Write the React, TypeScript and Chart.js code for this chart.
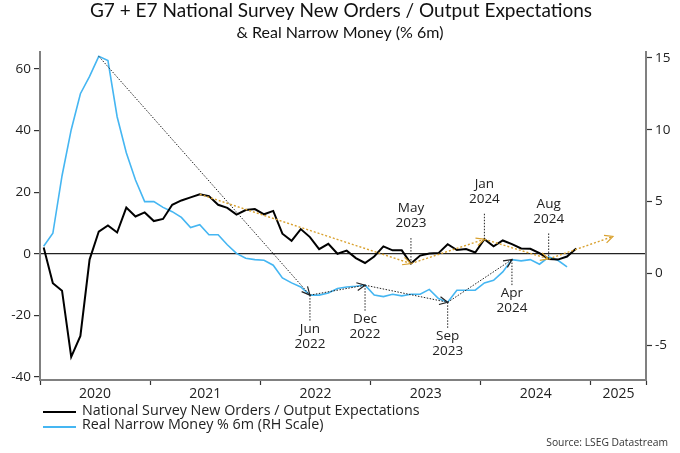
import React, { useEffect, useRef } from 'react';
import { Chart, registerables } from 'chart.js';
Chart.register(...registerables);

// Months counted from Jan 2020 (index 0)
const MONTH_OFFSET = 0.4;
const yearLabels = ['2020', '2021', '2022', '2023', '2024', '2025'];
const yearBoundaries = [0, 12, 24, 36, 48, 60, 66];
const yearLabelPositions = [6, 18, 30, 42, 54, 63];
const leftTicks = [-40, -20, 0, 20, 40, 60];
const rightTicks = [-5, 0, 5, 10, 15];

const surveyValues = [
  2.0, -9.6, -12, -33.5, -26.7, -1.9, 7.2, 9.2, 6.9, 15, 12.1, 13.4,
  10.6, 11.3, 15.9, 17.3, 18.3, 19.3, 18.7, 15.9, 14.9, 12.7, 14.2, 14.5,
  12.8, 13.9, 6.5, 4.2, 8.0, 5.4, 1.5, 3.2, 0, 1.0, -1.4, -3.0,
  -0.9, 2.4, 1.1, 1.1, -3.2, -0.6, 0.1, 0.2, 3.1, 1.2, 1.5, 0.4,
  4.7, 2.4, 4.3, 3.1, 1.7, 1.6, 0.2, -1.7, -1.9, -0.9, 1.7,
];
const moneyValues = [
  1.9, 2.8, 6.8, 10.0, 12.5, 13.7, 15.1, 14.8, 10.9, 8.4, 6.5, 5.0,
  5.0, 4.6, 4.3, 3.9, 3.2, 3.4, 2.7, 2.7, 2.0, 1.4, 1.06, 0.97,
  0.92, 0.58, -0.3, -0.65, -0.93, -1.5, -1.5, -1.35, -1.04, -0.93, -0.88, -0.81,
  -1.5, -1.6, -1.44, -1.55, -1.44, -1.44, -1.1, -1.74, -2.0, -1.16, -1.16, -1.16,
  -0.65, -0.47, 0.11, 0.97, 0.88, 0.97, 0.65, 1.15, 0.92, 0.46,
];

const moneyArrows = [[6, 29], [29, 35], [35, 44], [44, 51]];
const surveyArrows = [[17, 40], [40, 48], [48, 55]];
const surveyProjectionMonth = 62;
const surveyProjectionValue = 5.6;
const surveyMarks = [
  { m: 40, month: 'May', year: '2023' },
  { m: 48, month: 'Jan', year: '2024' },
  { m: 55, month: 'Aug', year: '2024' },
];
const moneyMarks = [
  { m: 29, month: 'Jun', year: '2022' },
  { m: 35, month: 'Dec', year: '2022' },
  { m: 44, month: 'Sep', year: '2023' },
  { m: 51, month: 'Apr', year: '2024' },
];

const TITLE = 'G7 + E7 National Survey New Orders / Output Expectations';
const SUBTITLE = '& Real Narrow Money (% 6m)';
const LEGEND1 = 'National Survey New Orders / Output Expectations';
const LEGEND2 = 'Real Narrow Money % 6m (RH Scale)';
const SOURCE = 'Source: LSEG Datastream';

const FONT = "'Open Sans', sans-serif";
const TITLE_FONT = "Lato, sans-serif";
const BLUE = '#45b6f2';
const ORANGE = '#d9a12e';
const AXIS = '#808080';

function drawArrow(ctx: CanvasRenderingContext2D, x1: number, y1: number, x2: number, y2: number, color: string, width: number, dash: number[]) {
  ctx.save();
  ctx.strokeStyle = color;
  ctx.lineWidth = width;
  ctx.setLineDash(dash);
  ctx.beginPath();
  ctx.moveTo(x1, y1);
  ctx.lineTo(x2, y2);
  ctx.stroke();
  ctx.setLineDash([]);
  const a = Math.atan2(y2 - y1, x2 - x1);
  const len = 9;
  const sp = 0.45;
  ctx.lineWidth = 1.2;
  ctx.beginPath();
  ctx.moveTo(x2 - len * Math.cos(a - sp), y2 - len * Math.sin(a - sp));
  ctx.lineTo(x2, y2);
  ctx.lineTo(x2 - len * Math.cos(a + sp), y2 - len * Math.sin(a + sp));
  ctx.stroke();
  ctx.restore();
}

function drawMark(ctx: CanvasRenderingContext2D, x: number, y: number, month: string, year: string, up: boolean) {
  ctx.save();
  ctx.strokeStyle = '#222';
  ctx.lineWidth = 1;
  ctx.setLineDash([1.5, 1.5]);
  const len = 27;
  const end = up ? y - len : y + len;
  ctx.beginPath();
  ctx.moveTo(x, y);
  ctx.lineTo(x, end);
  ctx.stroke();
  ctx.setLineDash([]);
  ctx.fillStyle = '#222';
  ctx.font = `13.5px ${FONT}`;
  ctx.textAlign = 'center';
  ctx.textBaseline = 'middle';
  if (up) {
    ctx.fillText(year, x, end - 13);
    ctx.fillText(month, x, end - 28);
  } else {
    ctx.fillText(month, x, end + 7);
    ctx.fillText(year, x, end + 22);
  }
  ctx.restore();
}

const overlayPlugin = {
  id: 'overlay',
  afterDatasetsDraw(chart: any) {
    const ctx = chart.ctx as CanvasRenderingContext2D;
    const xs = chart.scales.x;
    const yl = chart.scales.y;
    const yr = chart.scales.y1;
    const px = (m: number) => xs.getPixelForValue(m + MONTH_OFFSET);
    moneyArrows.forEach(([a, b]) => {
      drawArrow(ctx, px(a), yr.getPixelForValue(moneyValues[a]), px(b), yr.getPixelForValue(moneyValues[b]), '#222', 1, [1.5, 1.5]);
    });
    surveyArrows.forEach(([a, b]) => {
      drawArrow(ctx, px(a), yl.getPixelForValue(surveyValues[a]), px(b), yl.getPixelForValue(surveyValues[b]), ORANGE, 1.4, [2, 2]);
    });
    const last = surveyArrows[surveyArrows.length - 1][1];
    drawArrow(ctx, px(last), yl.getPixelForValue(surveyValues[last]), px(surveyProjectionMonth), yl.getPixelForValue(surveyProjectionValue), ORANGE, 1.4, [2, 2]);
    surveyMarks.forEach((mk) => drawMark(ctx, px(mk.m), yl.getPixelForValue(surveyValues[mk.m]), mk.month, mk.year, true));
    moneyMarks.forEach((mk) => drawMark(ctx, px(mk.m), yr.getPixelForValue(moneyValues[mk.m]), mk.month, mk.year, false));
  },
  afterDraw(chart: any) {
    const ctx = chart.ctx as CanvasRenderingContext2D;
    ctx.save();
    ctx.fillStyle = '#111';
    ctx.textAlign = 'center';
    ctx.textBaseline = 'alphabetic';
    ctx.font = `19px ${TITLE_FONT}`;
    ctx.fillText(TITLE, 341, 17);
    ctx.font = `16px ${TITLE_FONT}`;
    ctx.fillText(SUBTITLE, 340, 38);
    // legend
    ctx.lineWidth = 2;
    ctx.strokeStyle = '#000';
    ctx.beginPath();
    ctx.moveTo(43, 412);
    ctx.lineTo(76, 412);
    ctx.stroke();
    ctx.strokeStyle = BLUE;
    ctx.beginPath();
    ctx.moveTo(43, 427);
    ctx.lineTo(76, 427);
    ctx.stroke();
    ctx.fillStyle = '#222';
    ctx.textAlign = 'left';
    ctx.textBaseline = 'alphabetic';
    ctx.font = `14.3px ${FONT}`;
    ctx.fillText(LEGEND1, 82, 414.5);
    ctx.fillText(LEGEND2, 82, 429);
    ctx.textAlign = 'right';
    ctx.textBaseline = 'middle';
    ctx.font = `10.3px ${FONT}`;
    ctx.fillStyle = '#333';
    ctx.fillText(SOURCE, 668, 443);
    ctx.restore();
  },
};

export default function App() {
  const ref = useRef<HTMLCanvasElement | null>(null);
  useEffect(() => {
    if (!ref.current) return;
    const chart = new Chart(ref.current, {
      type: 'line',
      data: {
        datasets: [
          {
            label: LEGEND1,
            data: surveyValues.map((v, i) => ({ x: i + MONTH_OFFSET, y: v })),
            borderColor: '#000',
            borderWidth: 2,
            pointRadius: 0,
            yAxisID: 'y',
            tension: 0,
          },
          {
            label: LEGEND2,
            data: moneyValues.map((v, i) => ({ x: i + MONTH_OFFSET, y: v })),
            borderColor: BLUE,
            borderWidth: 1.6,
            pointRadius: 0,
            yAxisID: 'y1',
            tension: 0,
          },
        ],
      },
      options: {
        responsive: false,
        animation: false,
        layout: { padding: { top: 52, left: 0, right: 0, bottom: 0 } },
        plugins: { legend: { display: false }, tooltip: { enabled: false }, title: { display: false } },
        scales: {
          x: {
            type: 'linear',
            min: 0,
            max: 66,
            afterBuildTicks: (s: any) => {
              s.ticks = [...yearBoundaries, ...yearLabelPositions].sort((a, b) => a - b).map((v) => ({ value: v }));
            },
            afterFit: (s: any) => { s.height = 73; },
            ticks: {
              autoSkip: false,
              maxRotation: 0,
              padding: 1,
              color: '#222',
              font: { family: FONT, size: 14 },
              callback: (v: any) => {
                const idx = yearLabelPositions.indexOf(Number(v));
                return idx >= 0 ? yearLabels[idx] : '';
              },
            },
            grid: {
              drawOnChartArea: false,
              drawTicks: true,
              tickLength: 5,
              tickWidth: 1.2,
              tickColor: (c: any) => (yearBoundaries.includes(c.tick?.value) ? '#333' : 'transparent'),
            },
            border: { display: true, color: AXIS, width: 2 },
          },
          y: {
            type: 'linear',
            position: 'left',
            min: -41,
            max: 65.5,
            afterBuildTicks: (s: any) => { s.ticks = leftTicks.map((v) => ({ value: v })); },
            afterFit: (s: any) => { s.width = 40; },
            ticks: { color: '#222', padding: 3, font: { family: FONT, size: 13.5 } },
            grid: {
              drawOnChartArea: true,
              drawTicks: true,
              tickLength: 6,
              tickWidth: 1.2,
              tickColor: '#333',
              color: (c: any) => (c.tick && c.tick.value === 0 ? '#222' : 'transparent'),
              lineWidth: 1.2,
            },
            border: { display: true, color: AXIS, width: 2 },
          },
          y1: {
            type: 'linear',
            position: 'right',
            min: -7.4,
            max: 15.4,
            afterBuildTicks: (s: any) => { s.ticks = rightTicks.map((v) => ({ value: v })); },
            afterFit: (s: any) => { s.width = 34; },
            ticks: { color: '#222', padding: 3, font: { family: FONT, size: 13.5 } },
            grid: { drawOnChartArea: false, drawTicks: true, tickLength: 6, tickWidth: 1.2, tickColor: '#333' },
            border: { display: true, color: AXIS, width: 2 },
          },
        },
      } as any,
      plugins: [overlayPlugin],
    });
    return () => chart.destroy();
  }, []);
  return (
    <div style={{ position: 'absolute', left: 0, top: 0, width: 680, height: 453, background: '#fff' }}>
      <canvas ref={ref} width={680} height={453} style={{ display: 'block' }} />
    </div>
  );
}
